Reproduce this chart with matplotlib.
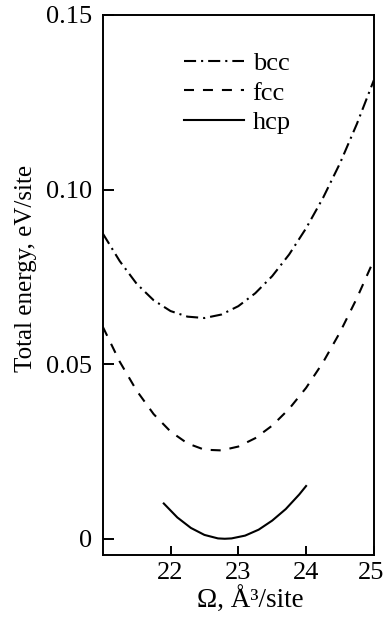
import matplotlib
matplotlib.use("Agg")
import matplotlib.pyplot as plt
import matplotlib.transforms as mtransforms

plt.rcParams['font.family'] = ['Liberation Serif', 'DejaVu Serif']
plt.rcParams['mathtext.fontset'] = 'stix'

# data
bcc_x = [21.0, 21.25, 21.5, 21.75, 22.0, 22.25, 22.5, 22.75, 23.0, 23.25,
         23.5, 23.75, 24.0, 24.25, 24.5, 24.75, 25.0]
bcc_y = [0.0874, 0.0795, 0.0730, 0.0683, 0.0652, 0.0636, 0.0632, 0.0642, 0.0666,
         0.0703, 0.0752, 0.0814, 0.0889, 0.0976, 0.1075, 0.1188, 0.1313]

fcc_x = [21.0, 21.25, 21.5, 21.75, 22.0, 22.25, 22.5, 22.75, 23.0, 23.25,
         23.5, 23.75, 24.0, 24.25, 24.5, 24.75, 25.0]
fcc_y = [0.0607, 0.0507, 0.0424, 0.0357, 0.0307, 0.0273, 0.0255, 0.0253, 0.0264,
         0.0288, 0.0324, 0.0372, 0.0432, 0.0505, 0.0591, 0.0689, 0.0798]

hcp_x = [21.9, 22.1, 22.3, 22.5, 22.7, 22.8, 22.9, 23.1, 23.3, 23.5, 23.7, 23.9, 24.0]
hcp_y = [0.0101, 0.0061, 0.0031, 0.0011, 0.0001, 0.0, 0.0001, 0.0009, 0.0026,
         0.0052, 0.0085, 0.0127, 0.0151]

x_ticks = [22, 23, 24, 25]
y_ticks = [0, 0.05, 0.10, 0.15]
y_tick_labels = ["0", "0.05", "0.10", "0.15"]

fig = plt.figure(figsize=(3.85, 6.21), dpi=100)
ax = fig.add_axes([0.267, 0.106, 0.704, 0.870])

lw = 1.5
ax.plot(bcc_x, bcc_y, color='black', lw=lw, dashes=(5.8, 2.4, 1, 2.4), label='bcc')
ax.plot(fcc_x, fcc_y, color='black', lw=lw, dashes=(4.8, 4.3), label='fcc')
ax.plot(hcp_x, hcp_y, color='black', lw=lw, linestyle='-', label='hcp')

ax.set_xlim(21, 25)
ax.set_ylim(-0.0047, 0.15)
ax.set_xticks(x_ticks)
ax.set_xticklabels([str(t) for t in x_ticks])
ax.set_yticks(y_ticks)
ax.set_yticklabels(y_tick_labels)

fs = 19
ax.tick_params(axis='both', direction='in', labelsize=fs, width=1.4, colors='black')
ax.tick_params(axis='y', length=7.7, pad=8)
ax.tick_params(axis='x', length=6.5, pad=5)
for s in ax.spines.values():
    s.set_linewidth(1.4)

ax.set_xlabel("Ω, Å³/site", fontsize=19.5)
ax.xaxis.set_label_coords(0.543, -0.058)
ax.set_ylabel("Total energy, eV/site", fontsize=18)
ax.yaxis.set_label_coords(-0.242, 0.531)

leg = ax.legend(loc='upper left', bbox_to_anchor=(0.299, 0.932), frameon=False,
                fontsize=19, handlelength=2.27, handletextpad=0.34,
                labelspacing=0.23, borderpad=0, borderaxespad=0)

# keep the last x tick label inside the canvas
fig.canvas.draw()
last = ax.get_xticklabels()[-1]
last.set_transform(last.get_transform() + mtransforms.ScaledTranslation(-2.5 / 100, 0, fig.dpi_scale_trans))

fig.savefig("out.png", dpi=100)
